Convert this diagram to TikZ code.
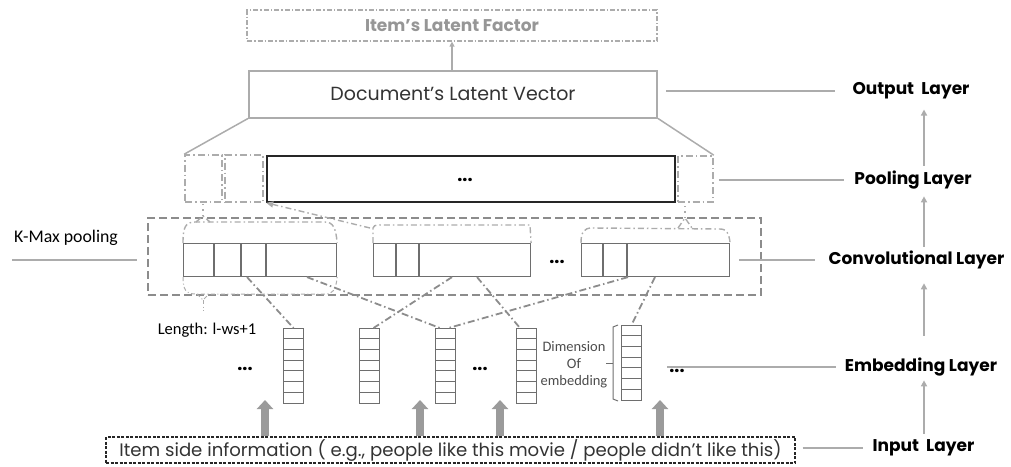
\documentclass[tikz,border=0pt]{standalone}
\usepackage{fontspec}
\setmainfont{Poppins}
\newfontfamily\calib{Carlito}
\usetikzlibrary{arrows.meta,calc}
\definecolor{lg}{RGB}{172,172,172}
\definecolor{mg}{RGB}{140,140,140}
\definecolor{dg}{RGB}{110,110,110}
\definecolor{txtg}{RGB}{150,150,150}
\definecolor{arrg}{RGB}{155,155,155}
\tikzset{
  layerlab/.style={font=\bfseries\fontsize{17}{19}\selectfont, inner sep=0pt, text=black},
  labline/.style={lg, line width=2pt},
  rarr/.style={lg, line width=1.8pt, -{Triangle[length=6pt,width=6pt]}},
  conn/.style={mg, line width=1.8pt, dash pattern=on 7pt off 3pt on 1.5pt off 3pt},
  bracebox/.style={lg, line width=1.4pt, dash pattern=on 6pt off 3pt on 1.5pt off 3pt},
  thinbrace/.style={lg, line width=1pt, dash pattern=on 4pt off 2.5pt on 1pt off 2.5pt},
  dotline/.style={lg, line width=1.4pt, dash pattern=on 1.5pt off 4pt},
  fmap/.style={draw=dg, line width=1.1pt, minimum height=33, inner sep=0, anchor=north west},
  vecbox/.style={draw=dg, line width=1pt, minimum width=20, minimum height=75, inner sep=0, anchor=north west},
  poolsmall/.style={draw=lg, line width=1.6pt, dash pattern=on 7pt off 3pt on 1.5pt off 3pt, inner sep=0},
  bigarrow/.style={arrg, line width=8pt, -{Triangle[length=9pt,width=16pt]}},
  dots/.style={font=\bfseries\fontsize{18}{20}\selectfont, inner sep=0pt}
}
\begin{document}
\begin{tikzpicture}[x=1pt,y=-1pt]
\useasboundingbox (0,0) rectangle (1011,466);

% top boxes
\node[draw=lg, line width=1.2pt, dash pattern=on 5pt off 2pt on 1.5pt off 2pt, minimum width=410, minimum height=31, inner sep=0, text=txtg, font=\bfseries\fontsize{17}{19}\selectfont] (item) at (452,25.5) {Item’s Latent Factor};
\node[draw=lg, line width=2pt, minimum width=408, minimum height=47, inner sep=0, text={black!80}, font=\fontsize{19}{21}\selectfont] (doc) at (453,94) {Document’s Latent Vector};
\draw[lg, line width=1.5pt, -{Triangle[length=5pt,width=5pt]}] (doc.north -| item.south) -- (item.south);

% pooling layer
\node[draw=black!85, line width=1.6pt, minimum width=408, minimum height=46, inner sep=0] (pool) at (471,179) {};
\node[dots] (pdots) at (465,180) {...};
\node[poolsmall, minimum width=37, minimum height=47] (pA) at (203.5,178.5) {};
\node[poolsmall, minimum width=38, minimum height=47] (pB) at (244,178.5) {};
\node[poolsmall, minimum width=35, minimum height=46] (pC) at (695.5,179) {};
\draw[lg, line width=1.5pt] (doc.south west) -- (pA.north west);
\draw[lg, line width=1.5pt] (doc.south east) -- (pC.north east);

% convolutional layer
\node[draw=mg, line width=2.2pt, dash pattern=on 8pt off 4pt, minimum width=613, minimum height=77, inner sep=0] (conv) at (454.5,256.5) {};
\node[fmap, minimum width=153] (M1) at (183,243) {};
\node[fmap, minimum width=157] (M2) at (373,243) {};
\node[fmap, minimum width=148] (M3) at (581,243) {};
\foreach \d in {31,58,83} \draw[dg, line width=1.1pt] ($(M1.north west)+(\d,0)$) -- ($(M1.south west)+(\d,0)$);
\foreach \d in {23,46} \draw[dg, line width=1.1pt] ($(M2.north west)+(\d,0)$) -- ($(M2.south west)+(\d,0)$);
\foreach \d in {22,46} \draw[dg, line width=1.1pt] ($(M3.north west)+(\d,0)$) -- ($(M3.south west)+(\d,0)$);
\node[dots] (cdots) at (557,262) {...};

% braces over / under the maps
\draw[bracebox] (M1.north west) .. controls (183,228) and (185,222) .. (195,222) -- (325,222) .. controls (333,222) and (336,228) .. (M1.north east);
\coordinate (cuspA) at (203,216);
\draw[bracebox] (196,222) -- (cuspA) -- (210,222);
\draw[dotline] (cuspA) -- (pA.south -| cuspA);
\draw[thinbrace] (M1.south west) .. controls (183,290) and (186,294) .. (196,294) -- (325,294) .. controls (333,294) and (336,290) .. (M1.south east);
\draw[thinbrace] (197,294) -- (203,300) -- (209,294);
\draw[thinbrace] (203,300) -- (203,311);

\draw[bracebox] (M2.north west) -- (373,228) .. controls (373,226) and (375,225) .. (380,225) -- (530,225) -- (M2.north east);
\draw[bracebox, -{Triangle[length=7pt,width=6pt]}] (370,228) -- (pool.south west);

\draw[bracebox] (M3.north west) .. controls (581,232) and (584,228) .. (592,228) -- (720,229) .. controls (727,229) and (729,234) .. (M3.north east);
\coordinate (cuspC) at (685,218);
\draw[bracebox] (678,228) -- (cuspC) -- (692,228);
\draw[dotline] (cuspC) -- (pC.south -| cuspC);

% embedding vectors
\node[vecbox] (v1) at (283,328) {};
\node[vecbox] (v2) at (359,328) {};
\node[vecbox] (v3) at (435,328) {};
\node[vecbox] (v4) at (516,328) {};
\node[vecbox] (v5) at (621,325) {};
\foreach \v in {v1,v2,v3,v4,v5}
  \foreach \k in {1,...,6}
    \draw[dg, line width=1pt] ($(\v.north west)+(0,\k*10.714)$) -- ($(\v.north east)+(0,\k*10.714)$);
\node[dots] (edots1) at (245,369) {...};
\node[dots] (edots2) at (480,369) {...};
\node[dots] (edots3) at (677,371) {...};

% bracket of v5
\draw[dg, line width=1pt] ($(v5.north west)+(-3,0)$) -- ($(v5.north west)+(-8,2)$) -- ($(v5.south west)+(-8,-2)$) -- ($(v5.south west)+(-3,0)$);
\draw[dg, line width=1pt] ($(v5.west)+(-8,0)$) -- ($(v5.west)+(-15,0)$);
\node[font=\calib\fontsize{14.5}{17}\selectfont, text=black!70, align=center, inner sep=0] (dimlab) at (574,365) {Dimension\\Of\\embedding};

% connectors maps -> vectors
\draw[conn] ($(M1.south west)+(64,0)$) -- (v1.north);
\draw[conn] ($(M1.south west)+(124,0)$) -- ($(v3.north west)+(5,0)$);
\draw[conn] ($(M2.south west)+(79,0)$) -- ($(v2.north)+(4,0)$);
\draw[conn] ($(M2.south west)+(104,0)$) -- ($(v4.north west)+(4,0)$);
\draw[conn] ($(M3.south west)+(47,0)$) -- ($(v3.north)+(3,0)$);
\draw[conn] ($(M3.south west)+(74,0)$) -- (v5.north);

% input
\node[draw=black!85, line width=1.2pt, dash pattern=on 3pt off 1.5pt, minimum width=689, minimum height=26, inner sep=0, font=\fontsize{18.1}{20}\selectfont, text=black!80] (input) at (450.5,450) {Item side information ( e.g., people like this movie / people didn’t like this)};
\foreach \x/\n in {265/a1,420/a2,500/a3,660/a4} {
  \coordinate (\n) at (\x,400);
  \draw[bigarrow] (input.north -| \n) -- (\n);
}

% labels
\node[font=\calib\fontsize{17.8}{20}\selectfont, inner sep=0] (kmax) at (66,238) {K-Max pooling};
\coordinate (kl) at (12,260);
\draw[labline, shorten >=10pt] (kl) -- (conv.west |- kl);
\node[font=\calib\fontsize{16.5}{18}\selectfont, inner sep=0] (lenlab) at (207,330) {Length: l-ws+1};

\node[layerlab] (lout) at (911,91) {Output~~Layer};
\node[layerlab] (lpool) at (913,180) {Pooling Layer};
\node[layerlab] (lconv) at (916.5,260) {Convolutional Layer};
\node[layerlab] (lemb) at (921,367) {Embedding Layer};
\node[layerlab] (lin) at (923.5,448) {Input~~Layer};

\draw[labline, shorten <=8pt, shorten >=17pt] (doc.east |- lout) -- (lout.west);
\draw[labline, shorten <=5pt, shorten >=10pt] (pC.east |- lpool) -- (lpool.west);
\draw[labline, shorten <=9pt, shorten >=13pt] (M3.east |- lconv) -- (lconv.west);
\draw[labline, shorten <=25pt, shorten >=9pt] (v5.east |- lemb) -- (lemb.west);
\draw[labline, shorten <=7pt, shorten >=9pt] (input.east |- lin) -- (lin.west);

\coordinate (ax) at (924,0);
\draw[rarr, shorten <=6pt, shorten >=4pt] (lin.north -| ax) -- (lemb.south -| ax);
\draw[rarr, shorten <=22pt, shorten >=14pt] (lemb.north -| ax) -- (lconv.south -| ax);
\draw[rarr, shorten <=4pt, shorten >=7pt] (lconv.north -| ax) -- (lpool.south -| ax);
\draw[rarr, shorten <=5pt, shorten >=10pt] (lpool.north -| ax) -- (lout.south -| ax);
\end{tikzpicture}
\end{document}
